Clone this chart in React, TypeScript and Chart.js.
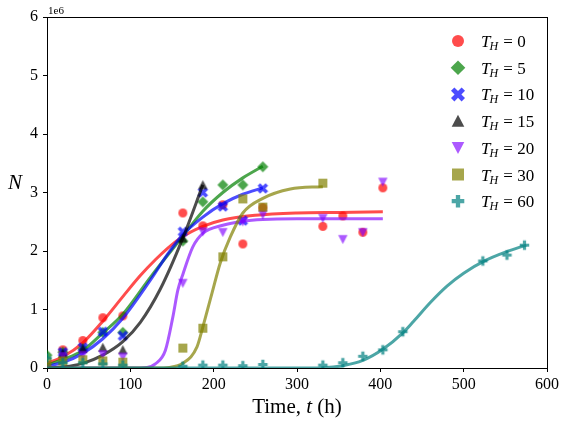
import React, { useEffect, useRef } from "react";
import { Chart, registerables } from "chart.js";

Chart.register(...registerables);

// ---- Data (N in units of 1e6, t in hours) ----
const seriesLabels = ["0", "5", "10", "15", "20", "30", "60"];
const xTicks = [0, 100, 200, 300, 400, 500, 600];
const yTicks = [0, 1, 2, 3, 4, 5, 6];

// Measured points
const tH0 = [19, 43, 67, 91, 163, 187, 211, 235, 259, 331, 355, 379, 403];
const nH0 = [0.31, 0.47, 0.86, 0.89, 2.65, 2.43, 2.79, 2.12, 2.74, 2.42, 2.6, 2.32, 3.08];
const tH5 = [0, 19, 43, 67, 91, 163, 187, 211, 235, 259];
const nH5 = [0.22, 0.27, 0.33, 0.61, 0.61, 2.17, 2.84, 3.13, 3.13, 3.44];
const tH10 = [19, 43, 67, 91, 163, 187, 211, 235, 259];
const nH10 = [0.27, 0.35, 0.62, 0.55, 2.33, 3.0, 2.76, 2.52, 3.07];
const tH15 = [19, 43, 67, 91, 163, 187];
const nH15 = [0.25, 0.33, 0.35, 0.31, 2.22, 3.13];
const tH20 = [19, 43, 67, 91, 163, 187, 211, 235, 259, 331, 355, 379, 403];
const nH20 = [0.2, 0.22, 0.23, 0.19, 1.45, 2.33, 2.32, 2.5, 2.62, 2.56, 2.2, 2.32, 3.18];
const tH30 = [0, 19, 43, 67, 91, 163, 187, 211, 235, 259, 331];
const nH30 = [0.1, 0.12, 0.14, 0.12, 0.1, 0.34, 0.68, 1.9, 2.89, 2.75, 3.16];
const tH60 = [0, 19, 43, 67, 91, 163, 187, 211, 235, 259, 331, 355, 379, 403, 427, 523, 552, 573];
const nH60 = [0.17, 0.09, 0.09, 0.07, 0.05, 0.03, 0.05, 0.05, 0.04, 0.06, 0.05, 0.09, 0.2, 0.31, 0.62, 1.83, 1.93, 2.1];

// Fitted curves
const ctH0 = [0, 20, 43, 67, 91, 112, 130, 145, 160, 187, 211, 250, 300, 350, 403];
const cnH0 = [0.08, 0.2, 0.43, 0.8, 1.22, 1.58, 1.85, 2.05, 2.22, 2.42, 2.53, 2.61, 2.65, 2.66, 2.67];
const ctH5 = [0, 20, 43, 67, 91, 124, 160, 187, 211, 235, 259];
const cnH5 = [0.05, 0.15, 0.3, 0.6, 0.92, 1.55, 2.2, 2.68, 3.0, 3.25, 3.45];
const ctH10 = [0, 20, 43, 67, 91, 124, 145, 163, 187, 211, 235, 259];
const cnH10 = [0.03, 0.1, 0.25, 0.5, 0.85, 1.5, 1.95, 2.28, 2.58, 2.81, 2.97, 3.08];
const ctH15 = [0, 20, 43, 67, 91, 112, 136, 163, 187];
const cnH15 = [0, 0.02, 0.08, 0.22, 0.45, 0.78, 1.35, 2.22, 3.13];
const ctH20 = [0, 100, 120, 130, 142, 151, 157, 163, 175, 187, 211, 235, 259, 300, 403];
const cnH20 = [0, 0, 0.01, 0.07, 0.3, 0.87, 1.33, 1.6, 2.07, 2.3, 2.44, 2.51, 2.54, 2.55, 2.55];
const ctH30 = [0, 130, 147, 163, 180, 187, 198, 208, 220, 235, 259, 292, 331];
const cnH30 = [0, 0, 0.01, 0.08, 0.36, 0.7, 1.28, 1.8, 2.24, 2.65, 2.9, 3.06, 3.1];
const ctH60 = [0, 300, 331, 355, 379, 403, 427, 440, 460, 480, 500, 525, 550, 575];
const cnH60 = [0, 0, 0.005, 0.04, 0.13, 0.32, 0.6, 0.8, 1.12, 1.4, 1.62, 1.83, 1.98, 2.1];

const pointT = [tH0, tH5, tH10, tH15, tH20, tH30, tH60];
const pointN = [nH0, nH5, nH10, nH15, nH20, nH30, nH60];
const curveT = [ctH0, ctH5, ctH10, ctH15, ctH20, ctH30, ctH60];
const curveN = [cnH0, cnH5, cnH10, cnH15, cnH20, cnH30, cnH60];

const colors = [
  "rgba(255,0,0,0.7)",
  "rgba(0,128,0,0.7)",
  "rgba(0,0,255,0.7)",
  "rgba(0,0,0,0.7)",
  "rgba(127,0,255,0.65)",
  "rgba(128,128,0,0.7)",
  "rgba(0,128,128,0.7)",
];
const shapes = ["circle", "diamond", "x", "triUp", "triDown", "square", "plus"];

const SERIF = "'Liberation Serif', 'Times New Roman', serif";

function drawShape(ctx: CanvasRenderingContext2D, shape: string, cx: number, cy: number, s: number, color: string) {
  const h = s / 2;
  ctx.fillStyle = color;
  ctx.beginPath();
  const poly = (pts: number[][]) => {
    pts.forEach((p, i) => (i === 0 ? ctx.moveTo(cx + p[0], cy + p[1]) : ctx.lineTo(cx + p[0], cy + p[1])));
    ctx.closePath();
  };
  const cross = (L: number, w: number, rot: number) => {
    const base = [
      [-w, -L], [w, -L], [w, -w], [L, -w], [L, w], [w, w],
      [w, L], [-w, L], [-w, w], [-L, w], [-L, -w], [-w, -w],
    ];
    const c = Math.cos(rot), sn = Math.sin(rot);
    poly(base.map(([x, y]) => [x * c - y * sn, x * sn + y * c]));
  };
  switch (shape) {
    case "circle":
      ctx.arc(cx, cy, h, 0, Math.PI * 2);
      break;
    case "diamond": {
      const d = h * 1.22;
      poly([[0, -d], [d, 0], [0, d], [-d, 0]]);
      break;
    }
    case "square":
      poly([[-h, -h], [h, -h], [h, h], [-h, h]]);
      break;
    case "triUp":
      poly([[0, -h * 1.05], [h * 1.05, h * 0.95], [-h * 1.05, h * 0.95]]);
      break;
    case "triDown":
      poly([[0, h * 1.05], [h * 1.05, -h * 0.95], [-h * 1.05, -h * 0.95]]);
      break;
    case "x":
      cross(h * 1.25, h * 0.4, Math.PI / 4);
      break;
    case "plus":
      cross(h * 1.05, h * 0.36, 0);
      break;
  }
  ctx.fill();
}

function makeImg(shape: string, s: number, color: string) {
  const c = document.createElement("canvas");
  const size = Math.ceil(s * 1.8) + 2;
  c.width = size;
  c.height = size;
  const ctx = c.getContext("2d")!;
  drawShape(ctx, shape, size / 2, size / 2, s, color);
  return c;
}

const decorPlugin = {
  id: "decor",
  afterDraw(chart: any) {
    const ctx: CanvasRenderingContext2D = chart.ctx;
    const { left, right, top, bottom } = chart.chartArea;
    ctx.save();
    // top and right spines
    ctx.strokeStyle = "#000";
    ctx.lineWidth = 1;
    ctx.beginPath();
    ctx.moveTo(Math.round(left), Math.round(top) + 0.5);
    ctx.lineTo(Math.round(right) + 0.5, Math.round(top) + 0.5);
    ctx.moveTo(Math.round(right) + 0.5, Math.round(top));
    ctx.lineTo(Math.round(right) + 0.5, Math.round(bottom) + 0.5);
    ctx.stroke();

    ctx.fillStyle = "#000";
    // 1e6 offset text
    ctx.font = `11px ${SERIF}`;
    ctx.textAlign = "left";
    ctx.textBaseline = "alphabetic";
    ctx.fillText("1e6", left + 1, top - 3);

    // y label
    ctx.font = `italic 21px ${SERIF}`;
    ctx.textAlign = "center";
    ctx.textBaseline = "middle";
    ctx.fillText("N", 15, 183);

    // x label: "Time, t (h)"
    const parts: [string, string][] = [
      ["Time, ", `21px ${SERIF}`],
      ["t", `italic 21px ${SERIF}`],
      [" (h)", `21px ${SERIF}`],
    ];
    let total = 0;
    parts.forEach(([t, f]) => {
      ctx.font = f;
      total += ctx.measureText(t).width;
    });
    let x = (left + right) / 2 - total / 2;
    ctx.textAlign = "left";
    ctx.textBaseline = "alphabetic";
    parts.forEach(([t, f]) => {
      ctx.font = f;
      ctx.fillText(t, x, 413);
      x += ctx.measureText(t).width;
    });

    // legend
    for (let i = 0; i < seriesLabels.length; i++) {
      const y = 41 + i * 26.7;
      drawShape(ctx, shapes[i], 458, y, 12, colors[i]);
      ctx.fillStyle = "#000";
      let tx = 481;
      const base = y + 6;
      ctx.font = `italic 17px ${SERIF}`;
      ctx.fillText("T", tx, base);
      tx += ctx.measureText("T").width - 1;
      ctx.font = `italic 12px ${SERIF}`;
      ctx.fillText("H", tx, base + 3);
      tx += ctx.measureText("H").width + 1;
      ctx.font = `17px ${SERIF}`;
      ctx.fillText(" = " + seriesLabels[i], tx, base);
    }
    ctx.restore();
  },
};

export default function App() {
  const ref = useRef<HTMLCanvasElement | null>(null);

  useEffect(() => {
    if (!ref.current) return;
    const datasets: any[] = [];
    const n = seriesLabels.length;
    for (let i = 0; i < n; i++) {
      const img = makeImg(shapes[i], 9, colors[i]);
      datasets.push({
        type: "scatter",
        label: "pts" + seriesLabels[i],
        data: pointT[i].map((t, k) => ({ x: t, y: pointN[i][k] })),
        pointStyle: img,
        pointRadius: 5,
        showLine: false,
        order: 100 - (2 * i + 1),
      });
      datasets.push({
        type: "line",
        label: "fit" + seriesLabels[i],
        data: curveT[i].map((t, k) => ({ x: t, y: curveN[i][k] })),
        borderColor: colors[i],
        borderWidth: 3,
        pointRadius: 0,
        fill: false,
        cubicInterpolationMode: "monotone",
        order: 100 - 2 * i,
      });
    }

    const axisCommon = {
      grid: { display: true, drawOnChartArea: false, drawTicks: true, tickLength: 4, color: "#000", lineWidth: 1 },
      border: { display: true, color: "#000", width: 1 },
    };

    const chart = new Chart(ref.current, {
      type: "scatter",
      data: { datasets },
      options: {
        animation: false,
        responsive: false,
        maintainAspectRatio: false,
        events: [],
        layout: { padding: { left: 0, right: 21, top: 17, bottom: 0 } },
        plugins: { legend: { display: false }, tooltip: { enabled: false } },
        scales: {
          x: {
            type: "linear",
            min: xTicks[0],
            max: xTicks[xTicks.length - 1],
            afterBuildTicks: (s: any) => {
              s.ticks = xTicks.map((v) => ({ value: v }));
            },
            ticks: { font: { family: SERIF, size: 16 }, color: "#000", padding: 3, maxRotation: 0 },
            afterFit: (s: any) => {
              s.height = 56;
            },
            ...axisCommon,
          },
          y: {
            type: "linear",
            min: yTicks[0],
            max: yTicks[yTicks.length - 1],
            afterBuildTicks: (s: any) => {
              s.ticks = yTicks.map((v) => ({ value: v }));
            },
            ticks: { font: { family: SERIF, size: 16 }, color: "#000", padding: 5 },
            afterFit: (s: any) => {
              s.width = 47;
            },
            ...axisCommon,
          },
        },
      } as any,
      plugins: [decorPlugin],
    });
    return () => chart.destroy();
  }, []);

  return (
    <div style={{ position: "fixed", left: 0, top: 0, width: 568, height: 424, background: "#fff" }}>
      <canvas ref={ref} width={568} height={424} style={{ width: 568, height: 424, display: "block" }} />
    </div>
  );
}
